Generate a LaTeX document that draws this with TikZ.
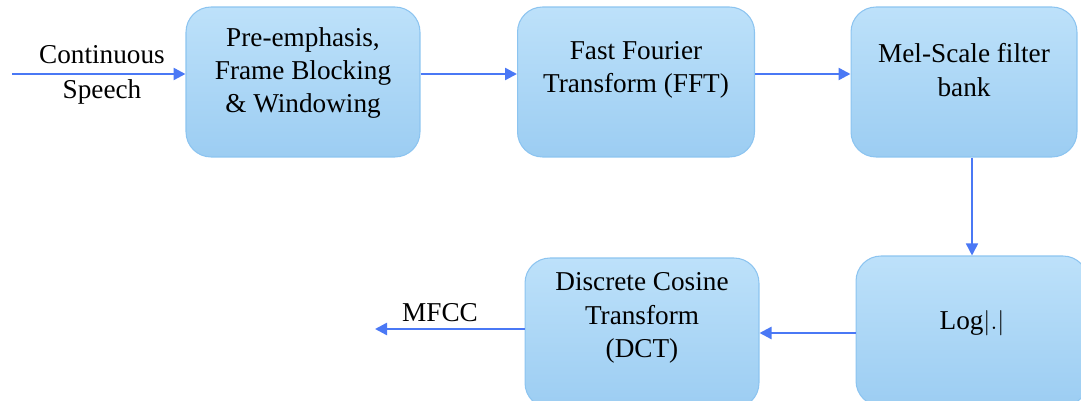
\documentclass[tikz,border=0pt]{standalone}
\usepackage{fontspec}
\setmainfont{Liberation Serif}
\usetikzlibrary{arrows.meta}
\definecolor{boxtop}{HTML}{BDE1FA}
\definecolor{boxbot}{HTML}{9CCDF2}
\definecolor{boxline}{HTML}{8CC4F0}
\definecolor{arrowblue}{HTML}{4A78F5}
\begin{document}
\begin{tikzpicture}[x=0.02cm,y=-0.02cm,
    blk/.style={draw=boxline,line width=0.6pt,rounded corners=0.5cm,top color=boxtop,bottom color=boxbot,minimum height=3cm,inner sep=0pt},
    txt/.style={align=center,font=\fontsize{15.5}{19}\selectfont,inner sep=0pt},
    arr/.style={-{Triangle[length=0.24cm,width=0.24cm]},draw=arrowblue,line width=1.4pt}]
            \useasboundingbox (0,0) rectangle (1081,401);
            \clip (0,0) rectangle (1081,401);
            \node[blk,minimum width=4.68cm] (pre) at (303,82) {};
            \node[blk,minimum width=4.74cm] (fft) at (636,82) {};
            \node[blk,minimum width=4.52cm] (mel) at (964,82) {};
            \node[blk,minimum width=4.68cm] (dct) at (642,333) {};
            \node[blk,minimum width=4.64cm] (log) at (972,331) {};
            \node[txt] (preT) at (303,73) {Pre-emphasis,\\Frame Blocking\\\& Windowing};
            \node[txt] (fftT) at (636,70) {Fast Fourier\\Transform (FFT)};
            \node[txt] (melT) at (964,70) {Mel-Scale filter\\bank};
            \node[txt] (dctT) at (642,318) {Discrete Cosine\\Transform\\(DCT)};
            \node[txt] (logT) at (972,323) {Log$|.|$};
            \coordinate (src) at (12,74);
            \coordinate (out) at (375,329);
            \node[txt,font=\fontsize{15.5}{20}\selectfont] (inp) at (102,75) {Continuous\\Speech};
            \node[txt,anchor=south] (mfcc) at (440,322) {MFCC};
            \draw[arr] (src)--(src-|pre.west);
            \draw[arr] ([yshift=0.16cm]pre.east)--([yshift=0.16cm]fft.west);
            \draw[arr] ([yshift=0.16cm]fft.east)--([yshift=0.16cm]mel.west);
            \draw[arr,line width=0.9pt] (mel.south-|log.north)--(log.north);
            \draw[arr] (log.west|-dct.east)--(dct.east);
            \draw[arr] (dct.west|-out)--(out);
        \end{tikzpicture}
\end{document}
